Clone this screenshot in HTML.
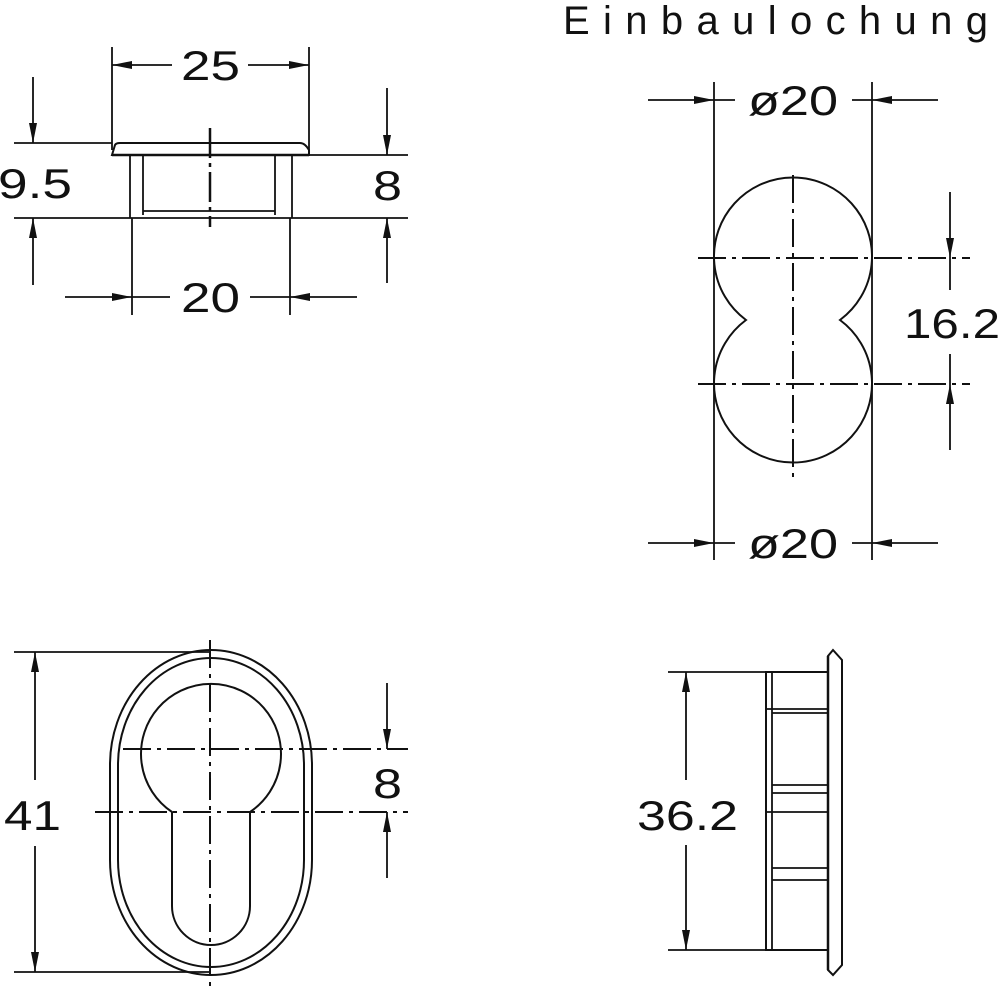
<!DOCTYPE html>
<html><head><style>html,body{margin:0;padding:0;background:#fff}svg{display:block}</style></head>
<body>
<svg width="1000" height="992" viewBox="0 0 1000 992" xmlns="http://www.w3.org/2000/svg">
<defs>
<marker id="a" viewBox="0 0 20 10" refX="20" refY="5" markerWidth="20" markerHeight="10" markerUnits="userSpaceOnUse" orient="auto"><path d="M0,1 L20,5 L0,9 Z" fill="#111"/></marker>
</defs>
<g fill="none" stroke="#111" stroke-width="1.8">
<text x="563" y="34" font-family="Liberation Sans, sans-serif" font-size="40" fill="#111" stroke="none" textLength="425" lengthAdjust="spacing">Einbaulochung</text>

<!-- Top-left -->
<line x1="112" y1="47" x2="112" y2="150"/><line x1="309" y1="47" x2="309" y2="150"/>
<line x1="172" y1="65" x2="112" y2="65" marker-end="url(#a)"/><line x1="248" y1="65" x2="309" y2="65" marker-end="url(#a)"/>
<line x1="14" y1="143" x2="112" y2="143"/><line x1="308" y1="155" x2="408" y2="155"/>
<line x1="14" y1="218" x2="408" y2="218"/>
<path d="M112,155 L115,145 Q116,143 120,143 L300,143 Q305,143 309,150 L309,155 Z" stroke-width="2"/>
<line x1="112" y1="155" x2="309" y2="155" stroke-width="2.5"/>
<line x1="130" y1="155" x2="130" y2="218"/><line x1="143" y1="155" x2="143" y2="215"/>
<line x1="275" y1="155" x2="275" y2="215"/><line x1="292" y1="155" x2="292" y2="218"/>
<line x1="143" y1="211" x2="275" y2="211"/>
<line x1="210" y1="128" x2="210" y2="227" stroke-width="2.5" stroke-dasharray="30 5 4 5"/>
<line x1="132" y1="218" x2="132" y2="315"/><line x1="290" y1="218" x2="290" y2="315"/>
<line x1="65" y1="297" x2="132" y2="297" marker-end="url(#a)"/><line x1="132" y1="297" x2="170" y2="297"/>
<line x1="357" y1="297" x2="290" y2="297" marker-end="url(#a)"/><line x1="290" y1="297" x2="250" y2="297"/>
<line x1="33" y1="77" x2="33" y2="143" marker-end="url(#a)"/><line x1="33" y1="285" x2="33" y2="218" marker-end="url(#a)"/>
<line x1="387" y1="88" x2="387" y2="155" marker-end="url(#a)"/><line x1="387" y1="283" x2="387" y2="218" marker-end="url(#a)"/>
<g font-family="Liberation Sans, sans-serif" font-size="42" fill="#111" stroke="none">
<text x="181" y="80" textLength="59" lengthAdjust="spacingAndGlyphs">25</text>
<text x="181" y="312" textLength="59" lengthAdjust="spacingAndGlyphs">20</text>
<text x="-2" y="198" textLength="74" lengthAdjust="spacingAndGlyphs">9.5</text>
<text x="373" y="200" textLength="29" lengthAdjust="spacingAndGlyphs">8</text>
<text x="748" y="115" textLength="90" lengthAdjust="spacingAndGlyphs">ø20</text>
<text x="748" y="558" textLength="90" lengthAdjust="spacingAndGlyphs">ø20</text>
<text x="904" y="338" textLength="96" lengthAdjust="spacingAndGlyphs">16.2</text>
<text x="4" y="830" textLength="57" lengthAdjust="spacingAndGlyphs">41</text>
<text x="373" y="798" textLength="29" lengthAdjust="spacingAndGlyphs">8</text>
<text x="637" y="830" textLength="101" lengthAdjust="spacingAndGlyphs">36.2</text>
</g>

<!-- Top-right -->
<line x1="714" y1="82" x2="714" y2="560"/><line x1="872" y1="82" x2="872" y2="560"/>
<line x1="648" y1="100" x2="714" y2="100" marker-end="url(#a)"/><line x1="714" y1="100" x2="735" y2="100"/>
<line x1="938" y1="100" x2="872" y2="100" marker-end="url(#a)"/><line x1="872" y1="100" x2="852" y2="100"/>
<line x1="648" y1="543" x2="714" y2="543" marker-end="url(#a)"/><line x1="714" y1="543" x2="735" y2="543"/>
<line x1="938" y1="543" x2="872" y2="543" marker-end="url(#a)"/><line x1="872" y1="543" x2="852" y2="543"/>
<path d="M746,320 A79,79 0 1 1 840,320 A79,79 0 1 1 746,320 Z" fill="#fff" stroke-width="2"/>
<line x1="698" y1="258" x2="970" y2="258" stroke-width="2" stroke-dasharray="28 6 4 6"/>
<line x1="698" y1="384" x2="970" y2="384" stroke-width="2" stroke-dasharray="28 6 4 6"/>
<line x1="793" y1="175" x2="793" y2="478" stroke-width="2" stroke-dasharray="28 6 4 6"/>
<line x1="950" y1="192" x2="950" y2="258" marker-end="url(#a)"/><line x1="950" y1="258" x2="950" y2="290"/>
<line x1="950" y1="450" x2="950" y2="384" marker-end="url(#a)"/><line x1="950" y1="384" x2="950" y2="354"/>

<!-- Bottom-left -->
<line x1="14" y1="652" x2="210" y2="652"/><line x1="14" y1="972" x2="210" y2="972"/>
<line x1="35" y1="780" x2="35" y2="652" marker-end="url(#a)"/><line x1="35" y1="846" x2="35" y2="972" marker-end="url(#a)"/>
<rect x="110" y="650" width="202" height="325" rx="101" ry="115" stroke-width="2"/>
<rect x="118" y="658" width="186" height="309" rx="93" ry="107" stroke-width="2"/>
<path d="M172,812 A70,70 0 1 1 250,812 L250,906 A39,39 0 0 1 172,906 Z" stroke-width="2"/>
<line x1="123" y1="749" x2="408" y2="749" stroke-width="2" stroke-dasharray="28 6 4 6"/>
<line x1="95" y1="812" x2="408" y2="812" stroke-width="2" stroke-dasharray="28 6 4 6"/>
<line x1="210" y1="640" x2="210" y2="990" stroke-width="2" stroke-dasharray="28 6 4 6"/>
<line x1="387" y1="683" x2="387" y2="749" marker-end="url(#a)"/><line x1="387" y1="878" x2="387" y2="812" marker-end="url(#a)"/>

<!-- Bottom-right -->
<line x1="668" y1="672" x2="828" y2="672"/><line x1="668" y1="950" x2="828" y2="950"/>
<line x1="686" y1="780" x2="686" y2="672" marker-end="url(#a)"/><line x1="686" y1="845" x2="686" y2="950" marker-end="url(#a)"/>
<path d="M828,656 L833,650 L842,660 L842,965 L833,975 L828,970 Z" stroke-width="2"/>
<line x1="828" y1="656" x2="828" y2="970" stroke-width="2.5"/>
<rect x="766" y="672" width="62" height="278" stroke-width="2"/>
<line x1="772" y1="672" x2="772" y2="950"/>
<line x1="766" y1="709" x2="828" y2="709"/><line x1="772" y1="713" x2="828" y2="713"/>
<line x1="772" y1="785" x2="828" y2="785"/><line x1="772" y1="793" x2="828" y2="793"/>
<line x1="766" y1="812" x2="828" y2="812"/>
<line x1="772" y1="868" x2="828" y2="868"/><line x1="772" y1="880" x2="828" y2="880"/>
</g>
</svg>
</body></html>
